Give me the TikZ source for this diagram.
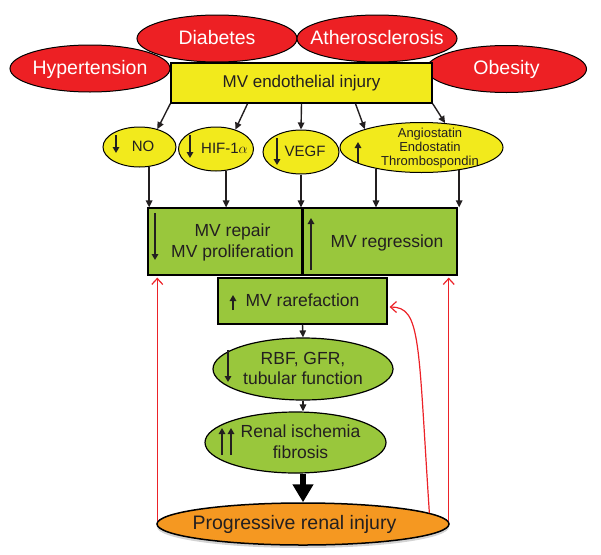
\documentclass[tikz,border=0pt]{standalone}
\usepackage{fontspec}
\setmainfont{Liberation Sans}
\usepackage{tikz}
\usetikzlibrary{arrows.meta,shapes.geometric,shadows}

\definecolor{ink}{RGB}{35,31,32}
\definecolor{causered}{RGB}{237,32,36}
\definecolor{injyellow}{RGB}{242,234,28}
\definecolor{mvgreen}{RGB}{153,199,60}
\definecolor{endorange}{RGB}{245,152,33}
\definecolor{fbred}{RGB}{236,34,40}

% text set in a box of no size, so the shape keeps the size it is given
\newcommand\boxtext[2][0pt]{\makebox[0pt]{\hspace*{#1}\smash{\raisebox{-.33em}{\begin{tabular}{@{}c@{}}#2\end{tabular}}}}}

\begin{document}
\begin{tikzpicture}
  [x=1pt,y=-1pt,every node/.style={draw,inner sep=0pt,text=ink}]

  \tikzstyle{cause}   = [ellipse,fill=causered,text=white,line width=1pt,
                         minimum width=160pt,minimum height=47pt,font=\fontsize{19.5}{22}\selectfont]
  \tikzstyle{injury}  = [rectangle,fill=injyellow,line width=1.5pt,
                         minimum width=261pt,minimum height=40pt,font=\fontsize{17}{20}\selectfont]
  \tikzstyle{factor}  = [ellipse,fill=injyellow,line width=1pt,font=\fontsize{15}{17}\selectfont]
  \tikzstyle{mvbox}   = [rectangle,fill=mvgreen,line width=1.2pt,font=\fontsize{17.5}{21}\selectfont]
  \tikzstyle{stage}   = [ellipse,fill=mvgreen,line width=1.2pt,font=\fontsize{17.5}{20.5}\selectfont]
  \tikzstyle{outcome} = [ellipse,fill=endorange,line width=1.5pt,font=\fontsize{19.5}{22}\selectfont,
                         drop shadow={shadow xshift=0pt,shadow yshift=-3pt,opacity=.35}]
  \tikzstyle{link}    = [draw=ink,line width=1.4pt,-{Triangle[length=7pt,width=6.5pt]}]
  \tikzstyle{cue}     = [draw=ink,line width=1.8pt,-{Triangle[length=6pt,width=6.5pt]}]
  \tikzstyle{heavy}   = [draw=black,line width=6pt,-{Triangle[length=18pt,width=20pt]}]
  \tikzstyle{feedback} = [draw=fbred,line width=1.2pt,-{Straight Barb[length=6pt,width=11pt]},shorten >=2pt]

  \useasboundingbox (0,0) rectangle (601,554);

  \node[cause] (hyp) at (90,68.5)   {\boxtext{Hypertension}};
  \node[cause] (dia) at (217,38.5)  {\boxtext{Diabetes}};
  \node[cause] (ath) at (377,38.5)  {\boxtext{Atherosclerosis}};
  \node[cause] (obe) at (506.5,69)  {\boxtext{Obesity}};

  \node[injury] (mv) at (301.5,83) {MV endothelial injury};

  \node[factor,minimum width=73pt,minimum height=40pt]  (no)    at (139.5,147) {\boxtext[7pt]{NO}};
  \node[factor,minimum width=75pt,minimum height=44pt]  (hif)   at (216,149)   {\boxtext[17pt]{HIF-1$\alpha$}};
  \node[factor,minimum width=76pt,minimum height=44pt]  (vegf)  at (301,152)   {\boxtext[8pt]{VEGF}};
  \node[factor,minimum width=163pt,minimum height=50pt,font=\fontsize{13}{14.3}\selectfont]
                                                        (angio) at (421.5,147.5)
        {\boxtext[17pt]{Angiostatin\\Endostatin\\Thrombospondin}};

  \node[mvbox,minimum width=154pt,minimum height=67pt] (repair)  at (225,241.5) {\boxtext[15pt]{MV repair\\MV proliferation}};
  \node[mvbox,minimum width=154pt,minimum height=67pt] (regress) at (380,241.5) {\boxtext[14pt]{MV regression}};
  \node[mvbox,minimum width=169pt,minimum height=46pt] (rare)    at (302.5,301) {\boxtext{MV rarefaction}};

  \node[stage,minimum width=180pt,minimum height=62pt] (rbf)   at (303,369)     {\boxtext{RBF, GFR,\\tubular function}};
  \node[stage,minimum width=181pt,minimum height=61pt] (renal) at (295.5,442.5) {\boxtext[10pt]{Renal ischemia\\fibrosis}};

  \node[outcome,minimum width=292pt,minimum height=42pt] (inj) at (303,524) {\boxtext[-17pt]{Progressive renal injury}};

  % up / down marks inside the shapes
  \draw[cue] (116,135) -- (116,153);
  \draw[cue] (190,135) -- (190,158);
  \draw[cue] (277,138) -- (277,165);
  \draw[cue] (358,163) -- (358,142);
  \draw[cue] (155,213) -- (155,260);
  \draw[cue] (311,270) -- (311,218);
  \draw[cue] (233,310) -- (233,295);
  \draw[cue] (228,350) -- (228,382);
  \draw[cue] (222,455) -- (222,428);
  \draw[cue] (231,455) -- (231,428);

  \path[every edge/.style={link}]
        (mv.south west)            edge (no.45)
        ([xshift=-54pt]mv.south)   edge (hif.45)
        (mv.south)                 edge (vegf.north)
        ([xshift=54pt]mv.south)    edge (angio.162)
        (mv.south east)            edge (angio.46)
        (no.-64)                   edge (no.-64 |- repair.north)
        (hif.-65)                  edge (hif.-65 |- repair.north)
        (vegf.south)               edge (vegf.south |- repair.north)
        (angio.-155)               edge (angio.-155 |- regress.north)
        (angio.-31)                edge (angio.-31 |- regress.north)
        (rare.south)               edge (rbf.north)
        (rbf.south)                edge (rbf.south |- renal.north);

  \draw[heavy] (renal.south -| inj.north) -- (inj.north);

  \path[every edge/.style={feedback}]
        (inj.179) edge (inj.179 |- repair.south)
        (inj.1)   edge (inj.1 |- regress.south);
  \draw[feedback] (inj.5) .. controls (418,340) and (421,307) .. ([yshift=-6pt]rare.east);
\end{tikzpicture}
\end{document}
